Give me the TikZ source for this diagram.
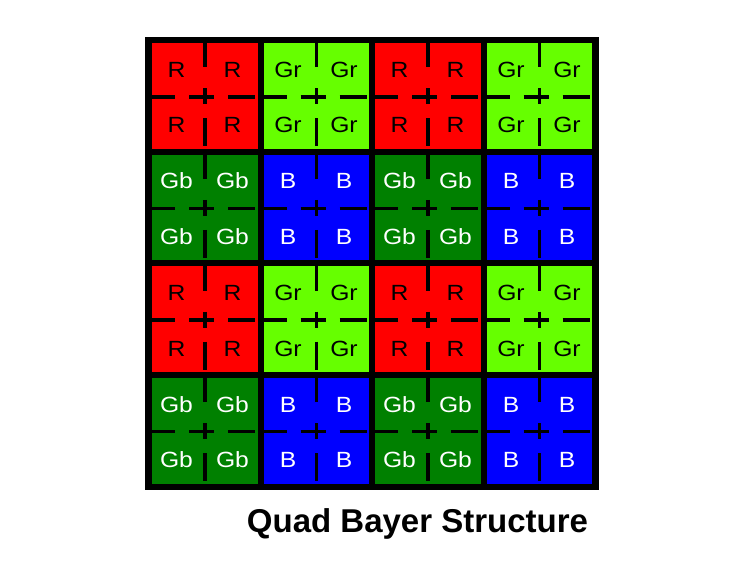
\documentclass[tikz,border=0pt]{standalone}
\usepackage{fontspec}
\setmainfont{Liberation Sans}
\newfontfamily\lblfont[FakeStretch=1.12]{Liberation Sans}
\definecolor{cR}{RGB}{255,0,0}
\definecolor{cGr}{RGB}{102,255,0}
\definecolor{cGb}{RGB}{0,128,0}
\definecolor{cB}{RGB}{0,0,255}
\begin{document}
\begin{tikzpicture}[x=1pt,y=-1pt,
  pxlabel/.style={font=\lblfont\fontsize{22}{22}\selectfont, inner sep=0pt, anchor=base},
  seg/.style={line width=3.5pt, draw=black}]
\useasboundingbox (0,0) rectangle (756,567);
\fill[white] (0,0) rectangle (756,567);
\fill[black] (145,37) rectangle (599,490);
\foreach \c/\l/\t/\ox/\oy in {cR/R/black/0/0, cGr/Gr/black/1/0, cGb/Gb/white/0/1, cB/B/white/1/1}{
  \foreach \dx in {0,2}{
    \foreach \dy in {0,2}{
      \pgfmathsetmacro{\xa}{152+(\ox+\dx)*111.5}
      \pgfmathsetmacro{\ya}{43.5+(\oy+\dy)*111.5}
      \begin{scope}[shift={(\xa,\ya)}]
        \fill[\c] (0,0) rectangle (105.5,105.5);
        \draw[seg] (0,53.5) -- (23,53.5) (37,53.5) -- (62,53.5) (76,53.5) -- (103,53.5);
        \draw[seg] (52.75,0) -- (52.75,24) (52.75,45) -- (52.75,61) (52.75,75) -- (52.75,103);
        \node[pxlabel,text=\t] at (24.5,34) {\l};
        \node[pxlabel,text=\t] at (80.5,34) {\l};
        \node[pxlabel,text=\t] at (24.5,89.5) {\l};
        \node[pxlabel,text=\t] at (80.5,89.5) {\l};
      \end{scope}
    }
  }
}
\node[font=\bfseries\fontsize{33}{33}\selectfont, anchor=base, inner sep=0pt] (title) at (417.5,532) {Quad Bayer Structure};
\end{tikzpicture}
\end{document}
